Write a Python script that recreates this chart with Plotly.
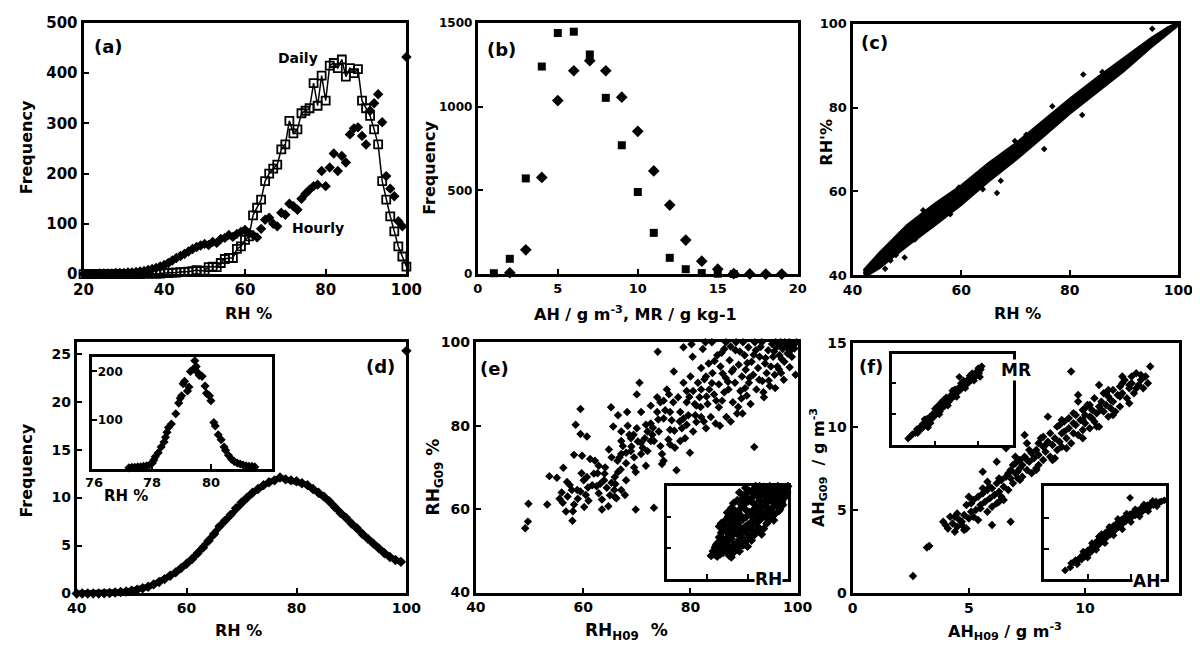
import plotly.graph_objects as go

W, H = 1200, 650
FONT = "DejaVu Sans"

# ---------------- (a) RH frequency: daily vs hourly ----------------
rh_a = list(range(20, 101))
daily_a = [0, 0, 0, 0, 0, 0, 0, 0, 0, 0, 0,
           0, 0, 0, 0, 1, 1, 1, 1, 1, 2,
           2, 3, 3, 4, 4, 5, 6, 8, 6, 7,
           14, 15, 14, 22, 30, 32, 32, 50, 55, 68,
           75, 117, 132, 148, 185, 200, 210, 218, 248, 258,
           305, 280, 288, 320, 325, 330, 380, 335, 395, 345,
           415, 420, 410, 427, 393, 410, 400, 408, 345, 330,
           315, 288, 258, 185, 148, 115, 85, 55, 35, 15]
hourly_a = [0, 0, 0, 0, 1, 1, 1, 1, 2, 2, 2,
            3, 3, 4, 5, 6, 8, 10, 12, 15, 18,
            22, 27, 32, 36, 40, 45, 50, 54, 57, 60,
            58, 64, 62, 70, 72, 78, 74, 80, 84, 88,
            82, 78, 73, 90, 108, 112, 100, 95, 122, 118,
            140, 135, 128, 150, 160, 168, 175, 178, 205, 175,
            212, 240, 205, 235, 222, 278, 290, 292, 275, 258,
            325, 340, 358, 302, 195, 170, 155, 105, 95, 432]

# ---------------- (b) AH / MR frequency ----------------
ah_b_x = list(range(1, 17))
ah_b_y = [5, 91, 571, 1239, 1439, 1447, 1311, 1052, 769, 490, 246, 97, 29, 6, 2, 0]
mr_b_x = list(range(2, 20))
mr_b_y = [8, 145, 577, 1036, 1214, 1274, 1214, 1056, 852, 616, 412, 203, 77, 29, 3, 1, 0, 0]

# ---------------- (c) RH vs RH' (dense band + outliers) ----------------
c_upper_x = [42, 45, 50, 55, 60, 65, 70, 75, 80, 85, 90, 95, 98, 100]
c_upper_y = [41.2, 45.5, 52.0, 57.0, 61.5, 66.8, 71.5, 76.8, 82.2, 87.2, 92.0, 96.7, 99.2, 100.4]
c_lower_x = [100, 95, 90, 85, 80, 75, 70, 65, 60, 55, 50, 45, 43, 42]
c_lower_y = [99.5, 94.3, 88.6, 83.5, 78.4, 72.8, 67.3, 62.2, 56.6, 51.6, 46.8, 41.6, 40.0, 39.8]
c_out_x = [42.5, 44, 46, 49.2, 49.6, 59.6, 66.6, 67.3, 69.9, 75.3, 76.8, 82.3, 82.5, 95.2, 47, 53, 58, 64, 72, 86,
           44.8, 46.5, 48.0, 51.5, 54.0, 56.5]
c_out_y = [40.6, 42.6, 41.5, 50.3, 44.2, 60.9, 59.6, 62.5, 72.0, 70.1, 80.3, 78.2, 87.9, 98.8, 43.5, 55.5, 54.5, 60.5, 73.5, 88.5,
           44.5, 45.5, 44.8, 48.5, 53.5, 57.8]

# ---------------- (d) simulated RH frequency ----------------
rh_d = list(range(40, 100))
freq_d = [0, 0, 0, 0, 0, 0.02, 0.05, 0.1, 0.15, 0.2,
          0.3, 0.4, 0.55, 0.7, 0.95, 1.2, 1.5, 1.85, 2.2, 2.65,
          3.1, 3.6, 4.2, 4.8, 5.5, 6.2, 7.0, 7.6, 8.2, 8.9,
          9.5, 10.0, 10.5, 10.9, 11.3, 11.6, 11.8, 12.1, 11.9, 11.8,
          11.7, 11.5, 11.3, 10.9, 10.5, 10.1, 9.6, 9.0, 8.4, 7.9,
          7.3, 6.8, 6.2, 5.7, 5.2, 4.7, 4.2, 3.8, 3.5, 3.3]
edge_d_x = [100]
edge_d_y = [25.3]
inset_d_x = [77.2, 77.3, 77.4, 77.5, 77.6, 77.7, 77.8, 77.9, 78.0, 78.05, 78.1, 78.2, 78.3, 78.4,
             78.45, 78.5, 78.55, 78.65, 78.8, 78.9, 78.95, 79.0, 79.05, 79.1, 79.2, 79.25, 79.3,
             79.4, 79.45, 79.5, 79.55, 79.6, 79.7, 79.8, 79.85, 79.95, 80.0, 80.1, 80.15, 80.25,
             80.35, 80.45, 80.5, 80.6, 80.7, 80.8, 80.9, 81.0, 81.1, 81.2, 81.3, 81.4, 81.5]
inset_d_y = [2, 3, 3, 4, 4, 5, 6, 8, 12, 18, 25, 33, 45, 55,
             65, 75, 85, 92, 113, 135, 145, 150, 175, 180, 160, 168, 200,
             205, 222, 210, 198, 192, 190, 170, 155, 150, 140, 95, 88, 70,
             60, 45, 38, 28, 20, 15, 12, 10, 8, 6, 5, 5, 4]

# ---------------- (e) RH G09 vs H09 ----------------
e_x = [49.2, 49.7, 49.8, 53.3, 53.7, 55.1, 56.3, 55.6, 56.2, 56.8, 58.0, 58.1, 57.5, 57.9, 58.3,
       59.5, 58.6, 59.5, 60.7, 59.7, 60.1, 60.5, 60.9, 59.5, 59.8, 61.3, 62.2, 62.7, 63.5, 63.2,
       62.9, 63.9, 64.4, 65.0, 65.3, 65.8, 66.2, 66.5, 65.9, 64.8, 65.2, 65.6, 66.5, 66.4, 66.8,
       67.1, 67.4, 67.8, 68.2, 68.3, 68.6, 68.9, 69.4, 69.5, 69.8, 69.8, 70.0, 70.5, 70.8, 71.1,
       71.7, 72.0, 72.0, 72.6, 72.9, 73.2, 73.2, 73.8, 73.9, 74.1, 74.4, 74.7, 74.7, 75.0, 75.3,
       75.6, 75.9, 76.2, 76.5, 76.8, 76.9, 77.1, 77.4, 77.7, 78.1, 78.4, 78.7, 78.7, 79.0, 79.3,
       79.6, 79.9, 80.0, 80.4, 80.5, 80.8, 81.1, 81.4, 81.7, 82.0, 82.0, 82.3, 82.6, 82.9, 83.2,
       83.4, 83.5, 83.8, 84.0, 84.1, 84.4, 84.7, 85.0, 85.3, 85.3, 85.6, 85.9, 86.3, 86.6, 86.7,
       87.1, 87.3, 87.7, 87.9, 88.3, 88.4, 88.5, 88.7, 89.0, 89.3, 89.6, 89.7, 90.1, 90.3, 90.5,
       90.8, 90.9, 91.2, 91.4, 91.7, 91.9, 92.2, 92.3, 92.6, 92.9, 93.3, 93.4, 93.7, 93.9, 94.2,
       94.5, 94.8, 95.0, 95.2, 95.4, 95.7, 96.0, 96.2, 96.6, 96.8, 96.9, 97.2, 97.5, 97.8, 98.1,
       98.4, 98.7, 99.6, 99.0,
       65.3, 67.1, 68.9, 70.8, 71.7, 69.5, 68.0, 75.0, 72.6, 73.8, 76.2, 79.3, 80.5, 78.1, 76.2,
       79.3, 82.0, 82.9, 78.7, 81.1, 74.4, 72.6, 70.8, 70.0, 67.1, 64.1, 62.9, 61.7, 60.7, 58.9,
       57.1, 58.3, 63.5, 64.7, 65.9, 68.0, 67.1, 62.0,
       84.5, 85.8, 87.5, 89.2, 90.6, 91.8, 93.1, 94.0, 95.6, 96.4, 97.0, 98.0, 98.9, 99.4, 99.8,
       97.6, 95.9, 92.0, 89.8, 86.6, 82.8, 80.2, 86.0, 87.0, 88.0, 89.5, 90.2, 91.0, 92.8, 93.6,
       94.6, 95.8, 96.5, 97.4, 98.5, 84.0, 83.0, 81.9, 80.9, 79.8, 78.0, 77.0, 76.0, 75.0, 74.0,
       73.0, 71.5, 70.2, 69.0, 68.0, 67.0, 66.0, 64.0, 62.5, 61.0, 60.2, 59.0, 57.0, 56.0, 85.5,
       87.5, 88.9, 86.3, 84.8, 82.5]
e_y = [55.4, 57.0, 61.3, 61.1, 67.9, 67.5, 69.9, 62.5, 61.5, 59.4, 57.2, 59.5, 65.8, 64.6, 73.0,
       84.0, 80.2, 78.0, 77.4, 68.6, 66.9, 63.4, 65.2, 64.2, 72.8, 72.0, 71.6, 68.6, 59.9, 66.1,
       63.8, 66.9, 65.1, 63.3, 66.3, 64.6, 62.6, 68.9, 62.9, 74.3, 84.4, 79.8, 82.5, 71.6, 72.4,
       73.2, 75.1, 63.4, 83.3, 80.0, 77.8, 77.0, 77.8, 70.0, 68.9, 59.9, 87.5, 90.3, 75.9, 74.7,
       80.2, 78.6, 73.9, 80.5, 77.8, 76.3, 60.3, 86.8, 97.7, 78.6, 75.1, 73.2, 70.8, 81.7, 83.7,
       88.7, 76.7, 79.0, 81.3, 85.6, 93.0, 74.7, 69.3, 86.8, 83.3, 79.4, 90.3, 98.8, 77.0, 85.6,
       82.5, 73.5, 91.8, 96.5, 88.3, 85.2, 80.9, 90.3, 86.8, 82.1, 93.8, 98.4, 91.1, 79.4, 85.2,
       94.9, 88.7, 82.1, 100, 92.6, 87.5, 80.5, 96.9, 89.9, 84.4, 94.2, 86.0, 98.4, 91.4, 82.1,
       88.7, 95.7, 93.0, 85.6, 90.3, 98.1, 100, 82.9, 94.6, 88.3, 91.8, 82.9, 96.9, 93.4, 87.2,
       98.8, 90.3, 85.2, 95.3, 92.2, 74.9, 98.1, 88.7, 93.8, 96.5, 100, 90.7, 86.8, 94.9, 92.6,
       98.1, 89.5, 94.2, 99.6, 96.5, 92.2, 98.8, 94.2, 96.9, 100, 92.6, 98.4, 95.3, 99.6, 97.3,
       100, 98.1, 92.2, 99.2,
       72.4, 76.3, 73.9, 73.2, 70.4, 72.4, 73.5, 71.6, 76.3, 83.3, 83.3, 80.2, 78.6, 76.3, 75.5,
       88.3, 88.7, 91.8, 81.7, 84.8, 85.6, 84.8, 83.3, 79.4, 78.6, 70.0, 70.4, 65.7, 67.7, 64.6,
       63.0, 61.1, 62.3, 60.7, 67.7, 66.9, 64.6, 68.5,
       95.5, 97.5, 99.0, 97.8, 95.0, 97.0, 98.9, 96.2, 97.8, 99.2, 96.0, 98.8, 96.5, 98.5, 100,
       100, 100, 100, 100, 100, 100, 99.5, 92.5, 90.5, 93.5, 86.5, 89.0, 91.5, 91.0, 88.0,
       90.8, 89.0, 93.5, 91.0, 94.0, 90.2, 87.0, 84.5, 82.5, 86.9, 81.0, 78.8, 87.5, 86.0, 81.5,
       79.5, 77.0, 76.2, 75.0, 71.0, 69.5, 66.0, 68.5, 65.5, 62.0, 60.5, 62.5, 66.5, 64.0, 80.0,
       81.0, 84.5, 88.0, 86.0, 81.0]
inset_e_x = [62, 63.5, 65, 66, 67, 64, 68, 69, 70, 71, 72, 73, 70, 72, 68, 66, 65, 67, 69, 71,
             73, 74, 75, 76, 78, 80, 82, 77, 75, 73, 71, 69, 67, 66, 72, 74, 76, 78, 80, 82,
             84, 85, 87, 86, 84, 82, 80, 78, 76, 74, 72, 70, 73, 75, 77, 79, 81, 83, 85, 87,
             89, 91, 90, 88, 86, 84, 82, 80, 78, 76, 79, 81, 83, 85, 87, 89, 91, 93, 95, 94,
             92, 90, 88, 92, 94, 96, 98, 97, 99, 100, 95, 86, 84, 91, 93, 96, 97, 99, 85,
             63, 64.5, 66.5, 68.5, 70.5, 72.5, 74.5, 76.5, 79, 81, 83, 85.5, 88, 89.5, 91.5, 93.5,
             95.5, 97.5, 98.5, 99.5, 96.5, 94.5, 92.5, 90.5, 88.5, 86.5, 84.5, 82.5, 80.5, 78.5,
             76.5, 74.5, 72.5, 70.5, 68.5, 66.5, 64.5, 69.5, 71.5, 73.5, 75.5, 77.5, 79.5, 81.5,
             83.5, 85.5, 87.5, 89.5, 91.5, 93.5, 95.5, 97.5, 74.5, 76.5, 78.5, 80.5, 82.5, 84.5,
             86.5, 88.5, 90.5, 77.5, 80, 83, 70.5, 68.5, 72.5]
inset_e_y = [55, 56, 54.5, 58, 60, 60.5, 57, 62, 58.5, 55, 54, 57, 64, 66, 66, 67, 63, 70, 72, 68,
             62, 60, 64, 58, 62, 61, 65, 67, 70, 72, 75, 78, 76, 74, 79, 77, 74, 71, 69, 72,
             70, 74, 69, 78, 80, 77, 75, 79, 82, 84, 86, 83, 89, 91, 88, 85, 83, 85, 82, 84,
             80, 83, 86, 89, 91, 88, 90, 92, 94, 96, 99, 97, 95, 97, 95, 93, 91, 89, 87, 92,
             95, 98, 99.5, 99, 97, 95, 96, 99, 99.5, 100, 100, 100, 100, 100, 78, 85, 90, 97, 99,
             58, 57.5, 56, 59.5, 61, 59, 62.5, 61, 64, 67, 68, 71, 72.5, 76, 79, 82,
             84, 88, 93, 96, 91.5, 89.5, 86.5, 84.5, 81.5, 79.5, 77.5, 75.5, 73.5, 73.5,
             71.5, 69.5, 68.5, 66.5, 64.5, 62.5, 62, 70.5, 72.5, 74.5, 76.5, 78.5, 80.5, 81.5,
             83.5, 85.5, 87.5, 89.5, 93, 95, 97.5, 98.5, 80.5, 85.5, 88.5, 90.5, 93, 94.5,
             96.5, 97, 96, 92, 96, 98, 80.5, 74.5, 82.5]

# ---------------- (f) AH G09 vs H09 ----------------
f_x = [2.6, 3.2, 3.3, 3.9, 4.0, 4.1, 4.3, 4.4, 4.5, 4.6, 4.4, 4.7, 4.8, 4.9, 5.0, 5.1, 4.9, 5.2,
       5.3, 5.4, 5.4, 5.5, 5.6, 5.6, 5.7, 5.8, 5.8, 5.9, 6.0, 6.0, 6.1, 6.2, 6.2, 6.3, 6.4, 6.4,
       6.5, 6.6, 6.6, 6.7, 6.8, 6.8, 6.8, 6.9, 7.0, 7.0, 7.1, 7.2, 7.2, 7.3, 7.3, 7.4, 7.5, 7.5,
       7.6, 7.7, 7.7, 7.8, 7.9, 8.0, 8.0, 8.1, 8.2, 8.2, 8.3, 8.4, 8.5, 8.5, 8.6, 8.7, 8.8, 8.8,
       8.9, 9.0, 9.0, 9.1, 9.2, 9.3, 9.3, 9.4, 9.4, 9.5, 9.5, 9.6, 9.7, 9.7, 9.8, 9.9, 9.9, 10.0,
       10.0, 10.1, 10.2, 10.2, 10.3, 10.4, 10.4, 10.5, 10.6, 10.6, 10.7, 10.8, 10.8, 10.9, 11.0,
       11.0, 11.1, 11.2, 11.2, 11.3, 11.4, 11.5, 11.5, 11.6, 11.7, 11.8, 11.9, 12.0, 12.0, 12.1,
       12.2, 12.3, 12.4, 12.5, 12.6, 12.7, 12.8,
       4.2, 4.7, 5.1, 5.5, 5.9, 6.3, 6.7, 7.1, 7.5, 7.9, 8.3, 8.7, 9.1, 9.5, 9.9, 10.3, 10.7, 11.1,
       11.5, 11.9,
       4.5, 4.8, 5.2, 5.6, 6.0, 6.3, 6.5, 6.9, 7.2, 7.6, 7.9, 8.2, 8.6, 8.9, 9.2, 9.6, 9.9, 10.2,
       10.5, 10.9, 11.2, 11.6, 11.9, 12.2, 12.4, 5.0, 5.8, 7.0, 8.0, 9.0, 10.0, 11.0, 6.2, 7.4,
       8.4, 9.7, 10.6, 11.6]
f_y = [1.05, 2.75, 2.85, 4.3, 4.1, 3.9, 4.2, 3.7, 4.0, 4.4, 4.6, 4.1, 4.7, 3.9, 4.5, 4.9, 5.3, 5.6,
       5.0, 4.4, 5.8, 5.3, 7.3, 6.0, 5.5, 4.9, 6.2, 5.7, 4.1, 6.3, 5.9, 6.6, 5.4, 6.1, 6.8, 5.8,
       6.4, 7.0, 8.7, 6.2, 4.3, 6.9, 7.4, 6.6, 7.2, 7.8, 6.9, 7.5, 8.0, 7.0, 7.7, 8.2, 7.4, 9.0,
       7.9, 8.4, 7.2, 8.1, 8.6, 7.7, 8.3, 9.3, 8.0, 8.8, 8.5, 9.1, 8.2, 9.6, 8.9, 9.3, 8.6, 10.0,
       9.1, 9.6, 8.8, 10.3, 9.3, 9.9, 10.5, 9.0, 13.3, 9.6, 10.8, 10.1, 9.5, 11.5, 10.4, 9.8, 11.0,
       10.2, 10.7, 11.3, 9.9, 10.6, 11.0, 10.3, 11.7, 10.8, 11.2, 10.0, 11.5, 10.9, 12.0, 11.3,
       10.6, 11.8, 11.1, 12.2, 11.5, 10.9, 11.9, 12.4, 11.2, 12.0, 12.8, 11.7, 12.3, 13.0, 12.6,
       12.0, 13.2, 12.5, 12.8, 12.3, 13.0, 12.6, 13.6,
       4.6, 4.3, 5.4, 5.1, 6.4, 5.5, 7.2, 7.3, 8.0, 7.5, 8.9, 8.1, 9.7, 10.2, 10.4, 10.5, 11.0,
       11.6, 11.8, 12.5,
       4.8, 3.8, 4.6, 6.3, 5.2, 6.9, 5.6, 7.7, 6.8, 8.6, 7.4, 9.4, 8.0, 10.1, 8.7, 10.7, 9.3, 11.3,
       10.0, 12.0, 10.7, 12.6, 11.4, 12.3, 13.1, 5.8, 6.7, 8.2, 9.0, 10.4, 11.1, 12.2, 7.9, 9.5,
       10.6, 11.9, 12.5, 13.0]
mr_in_x = [1.9, 2.4, 2.7, 2.9, 3.1, 3.3, 3.4, 3.6, 3.7, 3.9, 4.0, 4.1, 4.2, 4.3, 4.4, 4.6, 4.7,
           4.8, 5.0, 5.1, 5.2, 5.3, 5.5, 5.6, 5.7, 5.8, 6.0, 6.1, 6.2, 6.4, 6.5, 6.6, 6.8, 6.9,
           7.0, 7.2, 7.3, 7.4, 7.6, 7.7, 7.8, 7.9, 8.0, 8.2, 8.3, 8.5, 8.6, 8.8, 8.9, 9.1, 9.2,
           9.4, 9.5, 9.7, 9.8, 10.0, 10.1, 10.3, 10.4,
           2.2, 3.0, 3.8, 4.5, 5.0, 5.5, 6.0, 6.5, 7.0, 7.5, 8.0, 8.5, 9.0, 9.5, 10.0, 10.2, 5.3,
           6.3, 7.3, 8.3, 9.3]
mr_in_y = [1.1, 1.8, 2.0, 2.6, 2.3, 3.0, 2.6, 3.5, 3.0, 3.8, 3.4, 4.3, 2.9, 3.9, 4.6, 4.2, 5.0,
           4.5, 5.4, 4.9, 5.8, 5.2, 6.1, 5.5, 6.9, 6.0, 6.8, 6.3, 7.2, 6.7, 7.6, 7.0, 8.0, 7.5,
           8.3, 7.9, 8.8, 8.3, 9.1, 8.6, 11.0, 9.5, 9.0, 9.9, 9.4, 10.2, 9.7, 10.6, 10.1, 11.0, 10.5,
           11.3, 10.8, 11.7, 11.2, 12.0, 11.6, 12.2, 12.7,
           1.5, 2.0, 4.2, 3.6, 5.9, 5.0, 7.3, 6.4, 8.8, 7.8, 10.0, 9.2, 11.2, 10.4, 12.4, 11.0, 6.3,
           7.7, 9.0, 10.4, 11.6]
ah_in_x = [2.4, 3.1, 3.4, 3.6, 3.9, 4.1, 4.3, 4.4, 4.6, 4.8, 4.9, 5.0, 5.2, 5.3, 5.5, 5.6, 5.8,
           5.9, 6.1, 6.2, 6.4, 6.5, 6.7, 6.8, 7.0, 7.1, 7.3, 7.4, 7.6, 7.7, 7.9, 8.0, 8.2, 8.3,
           8.5, 8.6, 8.8, 8.9, 9.1, 9.2, 9.4, 9.5, 9.7, 9.9, 9.9, 10.1, 10.3, 10.5, 10.7, 10.9,
           11.1, 11.3, 11.5, 11.7, 11.9, 12.1, 12.3, 12.6, 12.9, 13.3, 13.85,
           3.0, 3.8, 4.5, 5.0, 5.5, 6.0, 6.6, 7.0, 7.5, 8.0, 8.5, 9.0, 9.5, 10.0, 10.5, 11.0, 11.5,
           12.0, 12.5, 13.0, 13.5, 6.3, 7.8, 9.3, 10.8, 12.2]
ah_in_y = [1.4, 2.6, 2.7, 3.1, 3.0, 3.5, 3.2, 3.9, 3.6, 4.3, 3.8, 4.7, 4.2, 5.0, 4.6, 5.5, 5.0,
           6.0, 5.4, 6.4, 5.8, 6.8, 6.2, 7.2, 6.6, 7.7, 7.0, 8.0, 7.3, 8.4, 7.7, 8.8, 8.1, 9.1,
           8.5, 9.5, 8.8, 9.8, 9.2, 10.1, 9.5, 10.4, 9.9, 13.4, 10.7, 10.2, 11.0, 10.5, 11.3, 10.8,
           11.6, 11.1, 11.9, 11.5, 12.2, 11.8, 12.5, 12.2, 12.8, 12.7, 13.0,
           1.9, 2.4, 4.5, 3.5, 5.9, 4.8, 7.4, 5.9, 8.6, 7.2, 9.9, 8.2, 10.8, 9.4, 11.5, 10.3, 12.3,
           11.2, 12.9, 12.0, 12.8, 7.0, 8.0, 9.8, 11.0, 12.0]

# ---------------- tick labels ----------------
ticks_a_x, ticks_a_y = [20, 40, 60, 80, 100], [0, 100, 200, 300, 400, 500]
ticks_b_x, ticks_b_y = [0, 5, 10, 15, 20], [0, 500, 1000, 1500]
ticks_c = [40, 60, 80, 100]
ticks_d_x, ticks_d_y = [40, 60, 80, 100], [0, 5, 10, 15, 20, 25]
ticks_di_x, ticks_di_y = [76, 78, 80], [100, 200]
ticks_e = [40, 60, 80, 100]
ticks_ei = [60, 80]
ticks_f_x, ticks_f_y = [0, 5, 10], [0, 5, 10, 15]
ticks_fi = [5, 10]

D5_X = [75.95, 82.1]


def dx(a, b):
    return [a / W, b / W]


def dy(a, b):
    return [1 - b / H, 1 - a / H]


def axis(domain, rng, tickvals, anchor, fs=14, lw=3, labels=True, pos=None):
    d = dict(domain=domain, range=rng, tickvals=tickvals, anchor=anchor,
             showline=True, linewidth=lw, linecolor="black", mirror=True,
             ticks="inside", ticklen=5, tickwidth=2, tickcolor="black",
             showgrid=False, zeroline=False, showticklabels=labels, fixedrange=True,
             tickfont=dict(family=FONT, size=fs, color="black", weight="bold"))
    if pos:
        d["ticklabelposition"] = pos
    return d


def sc(x, y, xa, ya, symbol="diamond", size=6, mode="markers", line=None, mline=None, color="black"):
    marker = dict(symbol=symbol, size=size, color=color)
    if mline:
        marker["line"] = mline
    t = go.Scatter(x=x, y=y, xaxis=xa, yaxis=ya, mode=mode, marker=marker,
                   showlegend=False, cliponaxis=False, hoverinfo="skip")
    if line:
        t.line = line
    return t


fig = go.Figure()
# (a)
fig.add_trace(sc(rh_a, daily_a, "x", "y", symbol="square-open", size=8, mode="lines+markers",
                 line=dict(color="black", width=1.5), mline=dict(color="black", width=1.8)))
fig.add_trace(sc(rh_a, hourly_a, "x", "y", size=8))
# (b)
fig.add_trace(sc(ah_b_x, ah_b_y, "x2", "y2", symbol="square", size=8))
fig.add_trace(sc(mr_b_x, mr_b_y, "x2", "y2", size=9))
# (c)
fig.add_trace(go.Scatter(x=c_upper_x + c_lower_x, y=c_upper_y + c_lower_y, xaxis="x3", yaxis="y3",
                         mode="lines", fill="toself", fillcolor="black", line=dict(color="black", width=1.5),
                         showlegend=False, hoverinfo="skip"))
fig.add_trace(sc(c_out_x, c_out_y, "x3", "y3", size=5))
# (d)
fig.add_trace(sc(rh_d, freq_d, "x4", "y4", size=8, mode="lines+markers",
                 line=dict(color="black", width=6)))
fig.add_trace(sc(edge_d_x, edge_d_y, "x4", "y4", size=8))
fig.add_trace(sc(inset_d_x, inset_d_y, "x5", "y5", size=7))
# (e)
fig.add_trace(sc(e_x, e_y, "x6", "y6", size=6.5))
fig.add_trace(sc(inset_e_x, inset_e_y, "x7", "y7", size=7))
# (f)
fig.add_trace(sc(f_x, f_y, "x8", "y8", size=6.5))
fig.add_trace(sc(mr_in_x, mr_in_y, "x9", "y9", size=6))
fig.add_trace(sc(ah_in_x, ah_in_y, "x10", "y10", size=6))

layout = dict(
    width=W, height=H, margin=dict(l=0, r=0, t=0, b=0),
    paper_bgcolor="white", plot_bgcolor="white", showlegend=False,
    xaxis=axis(dx(67, 397), [20, 100], ticks_a_x, "y", fs=15),
    yaxis=axis(dy(7, 265), [0, 500], ticks_a_y, "x", fs=15),
    xaxis2=axis(dx(470, 797), [0, 20], ticks_b_x, "y2", fs=13),
    yaxis2=axis(dy(7, 265), [0, 1500], ticks_b_y, "x2", fs=12),
    xaxis3=axis(dx(853, 1186), [40, 100], ticks_c, "y3", fs=14),
    yaxis3=axis(dy(8, 266), [40, 100], ticks_c, "x3", fs=13),
    xaxis4=axis(dx(60, 397), [40, 100], ticks_d_x, "y4", fs=14),
    yaxis4=axis(dy(335, 593), [0, 26.2], ticks_d_y, "x4", fs=14),
    xaxis5=axis(dx(76, 260), D5_X, ticks_di_x, "y5", fs=13, lw=2.5, labels=False),
    yaxis5=axis(dy(350, 465), [0, 230], ticks_di_y, "x5", fs=12, lw=2.5, pos="inside"),
    xaxis6=axis(dx(468, 797), [40, 100], ticks_e, "y6", fs=14),
    yaxis6=axis(dy(335, 592), [40, 100], ticks_e, "x6", fs=14),
    xaxis7=axis(dx(663, 787), [40, 100], ticks_ei, "y7", lw=2.5, labels=False),
    yaxis7=axis(dy(483, 578), [40, 100], ticks_ei, "x7", lw=2.5, labels=False),
    xaxis8=axis(dx(853, 1187), [0, 14.05], ticks_f_x, "y8", fs=14),
    yaxis8=axis(dy(336, 593), [0, 15], ticks_f_y, "x8", fs=14),
    xaxis9=axis(dx(893, 1017), [0, 14], ticks_fi, "y9", lw=2.5, labels=False),
    yaxis9=axis(dy(347, 441), [0, 14.7], ticks_fi, "x9", lw=2.5, labels=False),
    xaxis10=axis(dx(1049, 1173), [0, 14], ticks_fi, "y10", lw=2.5, labels=False),
    yaxis10=axis(dy(483, 578), [0, 15.3], ticks_fi, "x10", lw=2.5, labels=False),
)


def ann(text, px, py, size, angle=0, bg=None):
    d = dict(text=text, x=px / W, y=1 - py / H, xref="paper", yref="paper", showarrow=False,
             xanchor="center", yanchor="middle", textangle=angle,
             font=dict(family=FONT, size=size, color="black", weight="bold"))
    if bg:
        d["bgcolor"] = bg
        d["borderpad"] = 0
    return d


annotations = [
    ann("(a)", 92, 31, 18), ann("Daily", 286, 43, 14), ann("Hourly", 307, 218, 14),
    ann("(b)", 494, 34, 18), ann("(c)", 875, 27, 18), ann("(d)", 371, 360, 18),
    ann("(e)", 487, 362, 18), ann("(f)", 872, 360, 18),
    ann("Frequency", 9, 135, 16, -90), ann("Frequency", 421, 156, 16, -90),
    ann("RH'%", 827, 130, 16, -90), ann("Frequency", 9, 467, 16, -90),
    ann("RH<sub>G09</sub> %", 426, 473, 17, -90),
    ann("AH<sub>G09</sub>  / g m<sup>-3</sup>", 819, 464, 16, -90),
    ann("RH %", 236, 306, 16), ann("AH / g m<sup>-3</sup>, MR / g kg-1", 631, 306, 16),
    ann("RH %", 1022, 306, 16), ann("RH %", 225, 631, 16),
    ann("RH<sub>H09</sub>  %", 622, 632, 17), ann("AH<sub>H09</sub> / g m<sup>-3</sup>", 1009, 632, 16),
    ann("RH %", 110, 493, 15),
    ann("RH", 767, 578, 17, bg="white"), ann("MR", 1020, 364, 17, bg="white"),
    ann("AH", 1153, 580, 17, bg="white"),
]
# inset (d) x tick labels, placed in data coordinates of its own axis
for v in ticks_di_x:
    annotations.append(dict(text=str(v), x=v, y=0, xref="x5", yref="y5", showarrow=False,
                            xanchor="center", yanchor="top", yshift=-4,
                            font=dict(family=FONT, size=13, color="black", weight="bold")))
layout["annotations"] = annotations
fig.update_layout(**layout)
fig.write_html("out.html")
